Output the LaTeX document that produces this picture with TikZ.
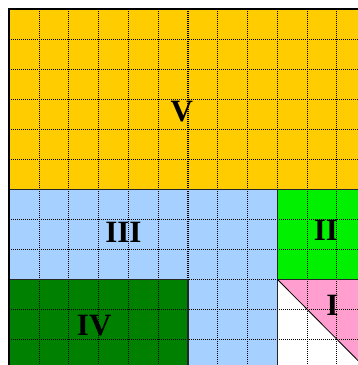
\documentclass[tikz,border=0pt]{standalone}
\usepackage{fontspec}
\setmainfont{Liberation Serif}
\definecolor{cV}{HTML}{FFCC00}
\definecolor{cIII}{HTML}{A6D0FF}
\definecolor{cII}{HTML}{00F000}
\definecolor{cIV}{HTML}{008000}
\definecolor{cI}{HTML}{FF9ECF}
\tikzset{
  griddot/.style={black, line width=1.1pt, dash pattern=on 1.1pt off 0.9pt},
  regionline/.style={black!85, line width=1.5pt},
  outerline/.style={black, line width=2.2pt},
  lbl/.style={inner sep=0pt, font=\fontsize{31}{33}\selectfont\bfseries}
}
\begin{document}
\begin{tikzpicture}[x=29.78pt, y=-30pt]
\useasboundingbox (-0.3123,-0.31) rectangle (11.709,11.857);
% regions
\fill[cV] (0,0) rectangle (11.709,6);
\fill[cIII] (0,6) rectangle (9,11.857);
\fill[cII] (9,6) rectangle (11.709,9);
\fill[cIV] (0,9) rectangle (6,11.857);
\fill[white] (9,9) rectangle (11.709,11.857);
\fill[cI] (9,9) -- (11.709,9) -- (11.709,11.709) -- cycle;
% grid
\foreach \i in {1,...,11} \draw[griddot] (\i,0) -- (\i,11.857);
\foreach \j in {1,...,11} \draw[griddot] (0,\j) -- (11.709,\j);
% region boundaries
\draw[regionline] (0,6) -- (11.709,6);
\draw[regionline] (9,6) -- (9,11.857);
\draw[regionline] (9,9) -- (11.709,9);
\draw[regionline] (0,9) -- (6,9) -- (6,11.857);
\draw[black, line width=0.8pt] (9,9) -- (11.709,11.709);
% outer border
\draw[outerline] (0,11.857) -- (0,0) -- (11.709,0);
% labels
\node[lbl] (lV) at (5.79,3.42) {V};
\node[lbl] (lIII) at (3.83,7.45) {III};
\node[lbl] (lII) at (10.63,7.38) {II};
\node[lbl] (lIV) at (2.85,10.55) {IV};
\node[lbl] (lI) at (10.85,9.86) {I};
\end{tikzpicture}
\end{document}
